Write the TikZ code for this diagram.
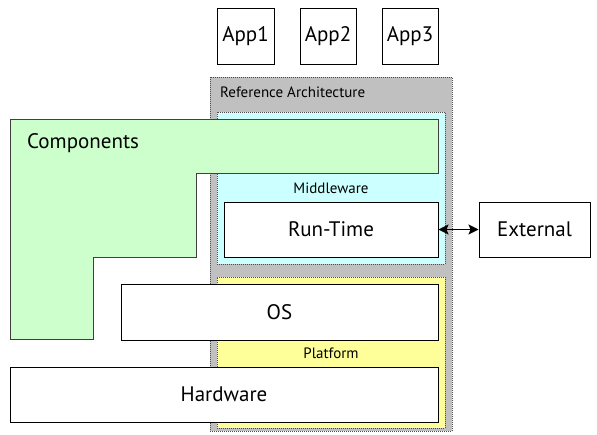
\documentclass[tikz,border=0pt]{standalone}
\usepackage{fontspec}
\setmainfont{PT Sans}
\usetikzlibrary{arrows.meta}

\definecolor{archgray}{HTML}{C0C0C0}
\definecolor{midcyan}{HTML}{CCFFFF}
\definecolor{platyellow}{HTML}{FFFF99}
\definecolor{compgreen}{HTML}{CCFFCC}

\tikzset{
  block/.style={draw=black, fill=white, line width=1pt, inner sep=0pt,
    font=\fontsize{21}{24}\selectfont},
  layer/.style={draw=black!70, densely dotted, line width=1pt, inner sep=0pt},
  tag/.style={inner sep=0pt, font=\fontsize{15}{17}\selectfont}
}

\begin{document}
\begin{tikzpicture}[x=1pt, y=-1pt, >={Stealth[length=10pt, width=10pt, inset=2pt]}]
    \useasboundingbox (0,0) rectangle (597,434);

    % Applications on top
    \node[block, minimum width=57, minimum height=56] (app1) at (245.5, 36) {App1};
    \node[block, minimum width=56, minimum height=56] (app2) at (328, 36) {App2};
    \node[block, minimum width=56, minimum height=56] (app3) at (410, 36) {App3};

    % Reference architecture with its two layers
    \node[layer, fill=archgray, minimum width=242, minimum height=354] (arch) at (331, 254) {};
    \node[tag, anchor=west] (archlbl) at (220, 92) {Reference Architecture};
    \node[layer, fill=midcyan, minimum width=228, minimum height=152] (mid) at (331, 188) {};
    \node[layer, fill=platyellow, minimum width=228, minimum height=151] (plat) at (331, 352.5) {};

    % Components region
    \draw[draw=black!75, fill=compgreen, line width=1pt]
    (10,119) -- (438,119) -- (438,173) -- (196,173) -- (196,257)
    -- (93,257) -- (93,339) -- (10,339) -- cycle;
    \node[anchor=west, inner sep=0pt, font=\fontsize{21}{24}\selectfont] (comp) at (27, 143) {Components};

    % Layer labels
    \node[tag] (midlbl) at (331, 188) {Middleware};
    \node[tag] (platlbl) at (331, 353) {Platform};

    % Blocks
    \node[block, minimum width=214, minimum height=55] (rt) at (331, 229.5) {Run-Time};
    \node[block, minimum width=111, minimum height=55] (ext) at (534.5, 229.5) {External};
    \node[block, minimum width=317, minimum height=56] (os) at (279.5, 312) {OS};
    \node[block, minimum width=428, minimum height=55] (hw) at (224, 394.5) {Hardware};

    % Link to the outside
    \draw[<->, line width=1.5pt] (rt) -- (ext);
\end{tikzpicture}
\end{document}
